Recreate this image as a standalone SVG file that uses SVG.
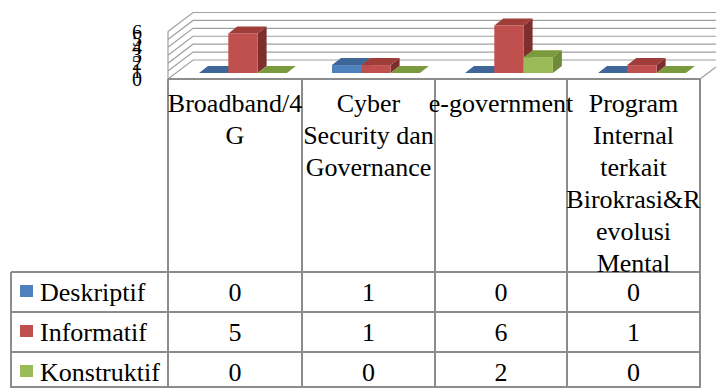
<svg xmlns="http://www.w3.org/2000/svg" width="716" height="388" viewBox="0 0 716 388">
<style>
.grid{fill:none;stroke:#A0A0A0;stroke-width:1.2}
.tbl{fill:none;stroke:#8C8C8C;stroke-width:2}
text{font-family:'Liberation Serif','Tinos','DejaVu Serif',serif;fill:#000}
.t{font-size:26px}
.c{text-anchor:middle}
.ax{font-size:20px;text-anchor:end}
.bf{fill:#4F81BD}.bt{fill:#3E6698}.bs{fill:#385D8A}
.rf{fill:#C0504D}.rt{fill:#9E3D3A}.rs{fill:#7E2F2D}
.gf{fill:#9BBB59}.gt{fill:#7A9A3D}.gs{fill:#6F8A38}
</style>
<rect width="716" height="388" fill="#fff"/>
<g id="chart-walls">
<path class="grid" d="M168,79 L193,60 H716 M168,71.08 L193,52.08 H716 M168,63.17 L193,44.17 H716 M168,55.25 L193,36.25 H716 M168,47.33 L193,28.33 H716 M168,39.42 L193,20.42 H716 M168,31.5 L193,12.5 H716 M168,31.5 V79 M700,79 L716,67"/>
</g>
<g id="axis-labels">
<text class="ax" x="142" y="86">0</text>
<text class="ax" x="142" y="78.1">1</text>
<text class="ax" x="142" y="70.2">2</text>
<text class="ax" x="142" y="62.3">3</text>
<text class="ax" x="142" y="54.3">4</text>
<text class="ax" x="142" y="46.4">5</text>
<text class="ax" x="142" y="38.5">6</text>
</g>
<g id="bars-broadband">
<polygon class="bt" points="199,73 208,66 237.3,66 228.3,73"/>
<polygon class="rs" points="257.6,33.4 266.6,26.4 266.6,66 257.6,73"/>
<polygon class="rt" points="228.3,33.4 237.3,26.4 266.6,26.4 257.6,33.4"/>
<rect class="rf" x="228.3" y="33.4" width="29.3" height="39.6"/>
<polygon class="gt" points="257.6,73 266.6,66 295.9,66 286.9,73"/>
</g>
<g id="bars-cyber">
<polygon class="bs" points="361.3,65.08 370.3,58.08 370.3,66 361.3,73"/>
<polygon class="bt" points="332,65.08 341,58.08 370.3,58.08 361.3,65.08"/>
<rect class="bf" x="332" y="65.08" width="29.3" height="7.92"/>
<polygon class="rs" points="390.6,65.08 399.6,58.08 399.6,66 390.6,73"/>
<polygon class="rt" points="361.3,65.08 370.3,58.08 399.6,58.08 390.6,65.08"/>
<rect class="rf" x="361.3" y="65.08" width="29.3" height="7.92"/>
<polygon class="gt" points="390.6,73 399.6,66 428.9,66 419.9,73"/>
</g>
<g id="bars-egov">
<polygon class="bt" points="465,73 474,66 503.3,66 494.3,73"/>
<polygon class="rs" points="523.6,25.48 532.6,18.48 532.6,66 523.6,73"/>
<polygon class="rt" points="494.3,25.48 503.3,18.48 532.6,18.48 523.6,25.48"/>
<rect class="rf" x="494.3" y="25.48" width="29.3" height="47.52"/>
<polygon class="gs" points="552.9,57.16 561.9,50.16 561.9,66 552.9,73"/>
<polygon class="gt" points="523.6,57.16 532.6,50.16 561.9,50.16 552.9,57.16"/>
<rect class="gf" x="523.6" y="57.16" width="29.3" height="15.84"/>
</g>
<g id="bars-program">
<polygon class="bt" points="598,73 607,66 636.3,66 627.3,73"/>
<polygon class="rs" points="656.6,65.08 665.6,58.08 665.6,66 656.6,73"/>
<polygon class="rt" points="627.3,65.08 636.3,58.08 665.6,58.08 656.6,65.08"/>
<rect class="rf" x="627.3" y="65.08" width="29.3" height="7.92"/>
<polygon class="gt" points="656.6,73 665.6,66 694.9,66 685.9,73"/>
</g>
<g id="table-grid">
<path class="tbl" d="M168,79 H700 M11,272 H700 M11,312 H700 M11,352 H700 M11,387 H700 M11,272 V388 M168,79 V388 M302,79 V388 M435,79 V388 M567,79 V388 M700,79 V388"/>
</g>
<g id="header-broadband">
<text class="t c" x="235" y="112">Broadband/4</text>
<text class="t c" x="235" y="144">G</text>
</g>
<g id="header-cyber">
<text class="t c" x="368.5" y="112">Cyber</text>
<text class="t c" x="368.5" y="144">Security dan</text>
<text class="t c" x="368.5" y="176">Governance</text>
</g>
<g id="header-egov">
<text class="t c" x="501" y="112">e-government</text>
</g>
<g id="header-program">
<text class="t c" x="633.5" y="112">Program</text>
<text class="t c" x="633.5" y="144">Internal</text>
<text class="t c" x="633.5" y="176">terkait</text>
<text class="t c" x="633.5" y="208">Birokrasi&amp;R</text>
<text class="t c" x="633.5" y="240">evolusi</text>
<text class="t c" x="633.5" y="272">Mental</text>
</g>
<g id="row-deskriptif">
<rect class="bf" x="20" y="285" width="13" height="12"/>
<text class="t" x="40" y="301">Deskriptif</text>
<text class="t c" x="235" y="301">0</text>
<text class="t c" x="368.5" y="301">1</text>
<text class="t c" x="501" y="301">0</text>
<text class="t c" x="633.5" y="301">0</text>
</g>
<g id="row-informatif">
<rect class="rf" x="20" y="325" width="13" height="12"/>
<text class="t" x="40" y="341">Informatif</text>
<text class="t c" x="235" y="341">5</text>
<text class="t c" x="368.5" y="341">1</text>
<text class="t c" x="501" y="341">6</text>
<text class="t c" x="633.5" y="341">1</text>
</g>
<g id="row-konstruktif">
<rect class="gf" x="20" y="365" width="13" height="12"/>
<text class="t" x="40" y="381">Konstruktif</text>
<text class="t c" x="235" y="381">0</text>
<text class="t c" x="368.5" y="381">0</text>
<text class="t c" x="501" y="381">2</text>
<text class="t c" x="633.5" y="381">0</text>
</g>
</svg>
